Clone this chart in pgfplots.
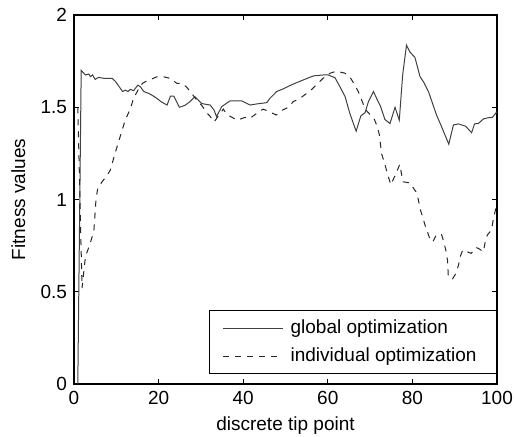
\documentclass[border=0pt]{standalone}
\usepackage{fontspec}
\setmainfont{Liberation Sans}
\usepackage{pgfplots}
\pgfplotsset{compat=1.18}
\newcommand{\fsz}{\fontsize{9.5}{11.4}\selectfont}
\begin{document}
\begin{tikzpicture}[font=\fsz]
\path[use as bounding box] (0,0) rectangle (257pt,218pt);
\begin{axis}[
  at={(37pt,26pt)}, anchor=south west,
  scale only axis, width=211.5pt, height=184.5pt,
  xmin=0, xmax=100, ymin=0, ymax=2,
  xtick={0,20,40,60,80,100}, ytick={0,0.5,1,1.5,2},
  tick align=inside, tick pos=both,
  major tick length=2.5pt,
  tick style={black, line width=0.4pt},
  axis line style={black, line width=0.6pt},
  /pgf/number format/assume math mode=true,
  tick label style={font=\fsz},
  label style={font=\fsz},
  xlabel={discrete tip point}, ylabel={Fitness values},
  xlabel style={at={(axis description cs:0.5,-0.1247)}, anchor=base},
  ylabel style={at={(axis description cs:-0.1158,0.5)}, anchor=base},
  legend cell align=left,
  legend style={at={(1,0.027)}, anchor=south east, draw=black, line width=0.5pt,
    fill=white, inner xsep=6.5pt, inner ysep=4.25pt, row sep=5pt, column sep=0pt,
    nodes={inner xsep=3.5pt, inner ysep=0pt, text height=7pt, text depth=2pt},
    font=\fsz},
  legend image code/.code={\draw[#1] (0pt,0pt) -- (30pt,0pt);},
]
\addplot[black!75, line width=0.5pt] coordinates {
(0.9,0) (1.7,1.70) (2.7,1.675) (3.5,1.68) (3.9,1.666) (4.4,1.675) (5.0,1.651) (5.8,1.662)
(7,1.657) (9,1.657) (9.8,1.64) (11.5,1.585) (12.1,1.593) (12.8,1.585) (13.3,1.597)
(14.1,1.59) (15.1,1.62) (15.7,1.611) (16.5,1.585) (17.7,1.575) (18.4,1.566) (19.6,1.548)
(20.6,1.53) (22,1.512) (22.8,1.56) (23.6,1.56) (24.9,1.50) (26.2,1.51) (27.4,1.53)
(28.6,1.557) (30.2,1.52) (32.2,1.512) (33.1,1.485) (33.7,1.449) (34.9,1.503)
(36.9,1.535) (39.6,1.535) (41.6,1.512) (43.2,1.518) (45.6,1.525) (46.3,1.548)
(47.9,1.585) (49.5,1.60) (51.1,1.618) (52.6,1.633) (54.2,1.648) (56.6,1.67)
(58.9,1.675) (60.1,1.675) (61.7,1.66) (62.9,1.61) (64.1,1.557) (65.2,1.467)
(66.7,1.37) (67.8,1.453) (68.8,1.47) (69.6,1.53) (70.8,1.585) (71.7,1.54)
(72.5,1.503) (73.5,1.434) (74.7,1.412) (75.9,1.500) (76.9,1.43) (77.7,1.675)
(78.6,1.837) (79.4,1.80) (80.6,1.77) (81.8,1.666) (82.7,1.635) (83.8,1.585)
(85.7,1.458) (86.8,1.40) (88.6,1.30) (89.7,1.404) (90.9,1.41) (92.6,1.397)
(94,1.362) (94.7,1.41) (95.6,1.412) (96.8,1.437) (97.9,1.443) (98.9,1.445) (100,1.476)
};
\addlegendentry{global optimization}
\addplot[black!85, line width=0.5pt, dash pattern=on 3pt off 3pt] coordinates {
(0.9,1.50) (1.9,0.52) (2.7,0.69) (3.8,0.76) (4.7,0.83) (5.2,1.0) (5.6,1.06)
(6.6,1.095) (7.8,1.13) (8.6,1.16) (9.7,1.25) (11.3,1.37) (12.1,1.43) (13.3,1.49)
(14.1,1.55) (15.3,1.60) (16.2,1.63) (17,1.64) (18,1.65) (19.6,1.665) (21.2,1.665)
(22.7,1.657) (24.3,1.63) (25.5,1.63) (26.6,1.61) (27.8,1.575) (29,1.54) (30.2,1.51)
(31.4,1.47) (32.2,1.45) (33.1,1.42) (35.3,1.49) (36.2,1.46) (38.6,1.43) (40.4,1.445)
(41.6,1.44) (43.4,1.47) (44.7,1.49) (46.2,1.476) (47.8,1.458) (49.3,1.485) (50.7,1.50)
(51.8,1.53) (53.4,1.548) (55,1.575) (56.2,1.597) (57.8,1.633) (58.9,1.657) (60.5,1.684)
(62.1,1.696) (64.1,1.684) (65.2,1.665) (66.4,1.62) (67.2,1.585) (68,1.54) (68.8,1.49)
(69.8,1.465) (70.9,1.44) (71.7,1.395) (72.2,1.35) (72.7,1.25) (73.5,1.19) (74.1,1.14)
(74.9,1.08) (76.3,1.15) (77.0,1.19) (77.5,1.13) (77.8,1.096) (79.4,1.09) (80.9,1.04)
(81.4,1.0) (81.8,0.95) (82.4,0.907) (83,0.86) (83.4,0.835) (84,0.795) (84.8,0.77)
(85.7,0.81) (86.9,0.81) (87.3,0.78) (87.9,0.726) (88.3,0.67) (88.5,0.58) (89.5,0.57)
(90.3,0.60) (90.9,0.645) (91.3,0.69) (91.9,0.726) (93.9,0.708) (95,0.74) (95.6,0.735)
(96.8,0.717) (97.2,0.77) (97.7,0.807) (98.7,0.835) (99.1,0.89) (99.7,0.95) (100,0.98)
};
\addlegendentry{individual optimization}
\end{axis}
\end{tikzpicture}
\end{document}
